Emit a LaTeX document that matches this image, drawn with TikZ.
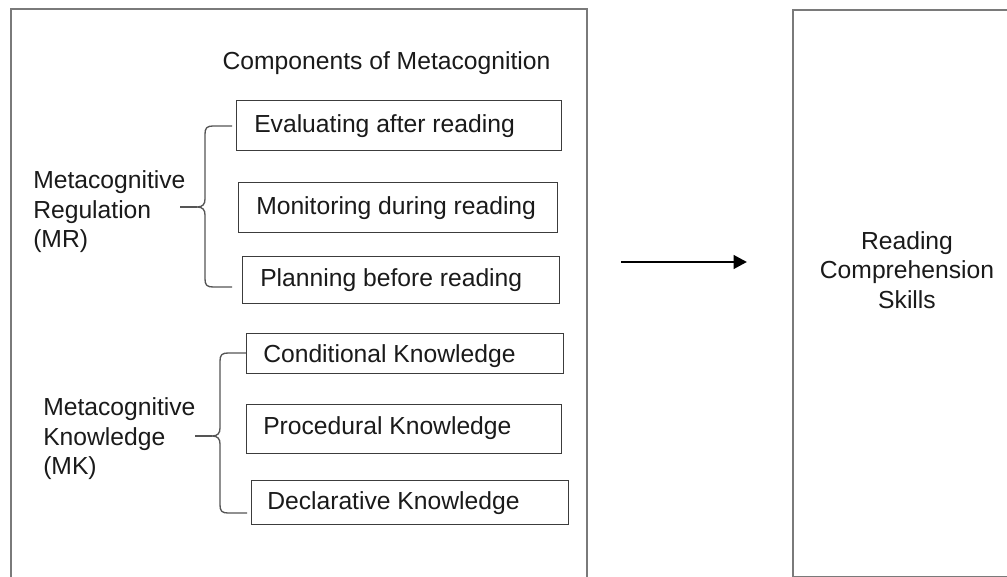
\documentclass[tikz,border=0pt]{standalone}
\usepackage{fontspec}
\setmainfont{Liberation Sans}
\usetikzlibrary{arrows.meta}
\definecolor{outerc}{HTML}{7A7A7A}
\definecolor{innerc}{HTML}{3C3C3C}
\definecolor{bracec}{HTML}{555555}
\definecolor{txtc}{HTML}{1A1A1A}
\begin{document}
\begin{tikzpicture}[x=0.75pt,y=-0.75pt,
  font=\fontsize{18.5}{22.1}\selectfont, text=txtc,
  outerbox/.style={draw=outerc, line width=1.2pt, anchor=north west, inner sep=0pt},
  itembox/.style={draw=innerc, line width=1pt, anchor=north west, inner sep=0pt},
  itemtext/.style={anchor=west, inner sep=0pt},
  bracestyle/.style={draw=bracec, line width=1pt},
  arrowstyle/.style={draw=black, line width=2.2pt, -{Triangle[length=10pt,width=10pt]}}]
\useasboundingbox (0,0) rectangle (1007,577);
\fill[white] (0,0) rectangle (1007,577);

% outer boxes
\node[outerbox, minimum width=432pt, minimum height=444pt] (lbox) at (10,8) {};
\node[outerbox, minimum width=172.5pt, minimum height=425.25pt] (rbox) at (792,9) {};

% title
\node (title) at (386.5,63) {Components of Metacognition};

% regulation items
\node[itembox, minimum width=243.75pt, minimum height=37.5pt] (ev) at (236,100) {};
\node[itemtext] (evt) at ([xshift=13.5pt]ev.west) {Evaluating after reading};
\node[itembox, minimum width=239.25pt, minimum height=37.5pt] (mo) at (238,182) {};
\node[itemtext] (mot) at ([xshift=13.5pt]mo.west) {Monitoring during reading};
\node[itembox, minimum width=237.75pt, minimum height=35.25pt] (pl) at (242,256) {};
\node[itemtext] (plt) at ([xshift=13.5pt]pl.west) {Planning before reading};

% knowledge items
\node[itembox, minimum width=237.75pt, minimum height=30pt] (co) at (246,333) {};
\node[itemtext] (cot) at ([xshift=12.75pt,yshift=-1.5pt]co.west) {Conditional Knowledge};
\node[itembox, minimum width=236.25pt, minimum height=36.75pt] (pr) at (246,404) {};
\node[itemtext] (prt) at ([xshift=12.75pt,yshift=1pt]pr.west) {Procedural Knowledge};
\node[itembox, minimum width=237.75pt, minimum height=33pt] (de) at (251,480) {};
\node[itemtext] (det) at ([xshift=12pt]de.west) {Declarative Knowledge};

% group labels
\node[align=left, anchor=west, inner sep=0pt] (mr) at (33,212) {Metacognitive\\Regulation\\(MR)};
\node[align=left, anchor=west, inner sep=0pt] (mk) at (43,439) {Metacognitive\\Knowledge\\(MK)};

% braces
\draw[bracestyle] (232,126) -- (213,126) .. controls (207,126) and (205,128) .. (205,134)
  -- (205,199) .. controls (205,204) and (203,207) .. (197,207)
  .. controls (203,207) and (205,210) .. (205,215)
  -- (205,279) .. controls (205,285) and (207,287) .. (213,287) -- (232,287);
\draw[bracestyle] (180,207) -- (197,207);

\draw[bracestyle] (246,353) -- (228,353) .. controls (222,353) and (220,355) .. (220,361)
  -- (220,428) .. controls (220,433) and (218,436) .. (212,436)
  .. controls (218,436) and (220,439) .. (220,444)
  -- (220,505) .. controls (220,511) and (222,513) .. (228,513) -- (247,513);
\draw[bracestyle] (195,436) -- (212,436);

% arrow
\coordinate (a1) at (621,262);
\coordinate (a2) at (747,262);
\draw[arrowstyle] (a1) -- (a2);

% right box text
\node[align=center] (rtext) at (907,270) {Reading\\Comprehension\\Skills};
\end{tikzpicture}
\end{document}
